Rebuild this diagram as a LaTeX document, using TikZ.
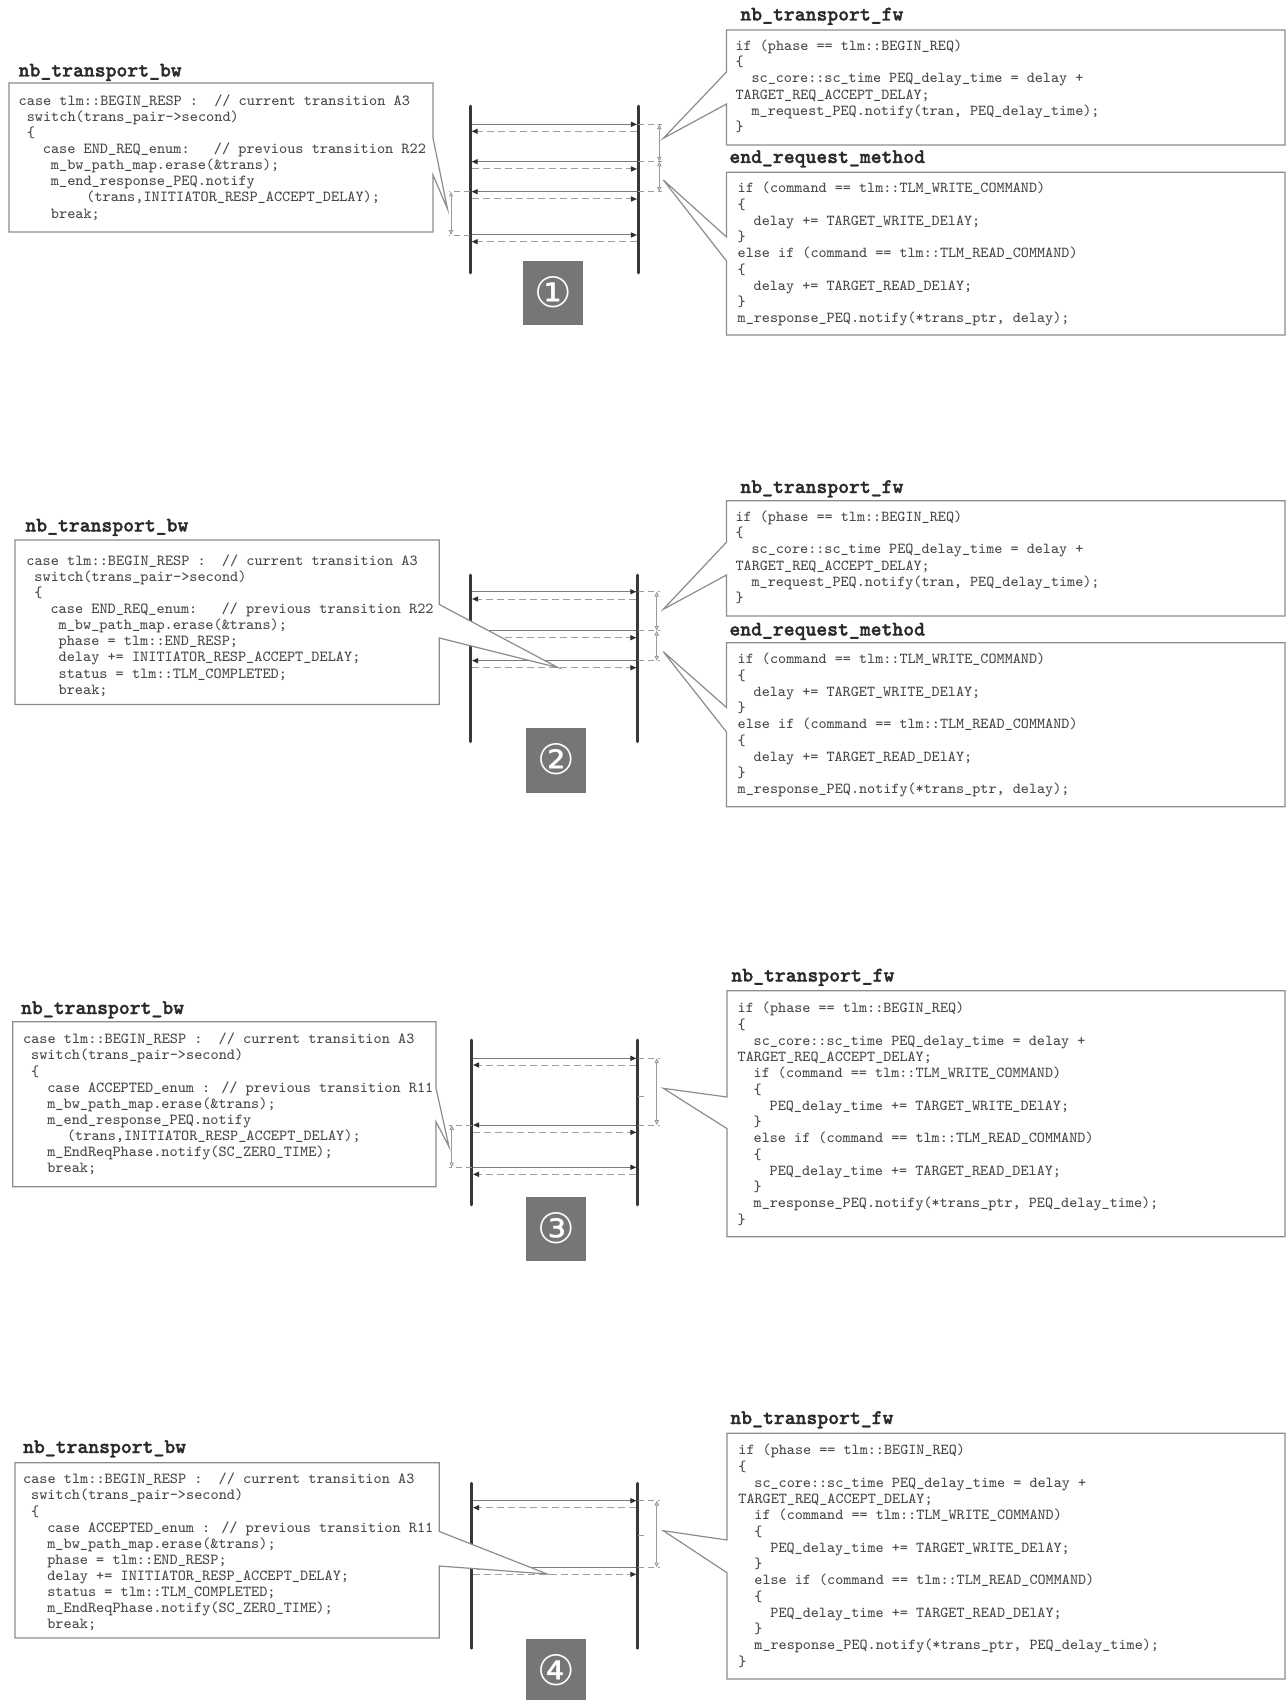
\documentclass[tikz,border=0pt]{standalone}
\usepackage{fontspec}
\usetikzlibrary{arrows.meta}
\newfontfamily\numfont{DejaVu Sans}
\newfontfamily\headfont{lmmonolt10-bold.otf}[FakeBold=1.6]
\newcommand\cind[1]{\hspace*{#1\dimexpr 0.525em\relax}}
\definecolor{boxline}{HTML}{8C8C8C}
\definecolor{codegray}{HTML}{484848}
\definecolor{titlegray}{HTML}{2A2A2A}
\definecolor{lifec}{HTML}{383838}
\definecolor{msgc}{HTML}{7A7A7A}
\definecolor{retc}{HTML}{A0A0A0}
\definecolor{headc}{HTML}{303030}
\definecolor{dimc}{HTML}{9A9A9A}
\definecolor{numc}{HTML}{767676}
\begin{document}
\begin{tikzpicture}[x=0.5pt,y=-0.5pt,
  callout/.style={draw=boxline, line width=0.6pt, fill=white, line join=miter},
  code/.style={anchor=north west, inner sep=0pt, align=left, text=codegray,
    font=\ttfamily\fontsize{7.68}{8.05}\selectfont},
  rcode/.style={code, font=\ttfamily\fontsize{7.62}{8.12}\selectfont},
  title/.style={anchor=base west, inner sep=0pt, text=titlegray,
    font=\headfont\fontsize{10.35}{12}\selectfont},
  life/.style={line width=1.35pt, draw=lifec, line cap=round},
  msg/.style={line width=0.5pt, draw=msgc, shorten <=0.7pt, shorten >=0.7pt,
    -{Triangle[length=3pt,width=2.6pt,color=headc]}},
  ret/.style={msg, draw=retc, dash pattern=on 3.5pt off 2pt},
  ext/.style={line width=0.45pt, draw=dimc, dash pattern=on 3pt off 2pt},
  dim/.style={line width=0.45pt, draw=dimc,
    {Triangle[open,length=2.4pt,width=2.2pt,fill=white]}-{Triangle[open,length=2.4pt,width=2.2pt,fill=white]}},
  tick/.style={line width=0.45pt, draw=dimc},
  numbox/.style={fill=numc, draw=none},
  num/.style={text=white, inner sep=0pt, font=\numfont\fontsize{21}{21}\selectfont}]
\useasboundingbox (0,0) rectangle (1286,1700);

% ---------------------------------------------------------------- panel 1
\coordinate (L1t) at (470.3,106); \coordinate (L1b) at (470.3,273);
\coordinate (R1t) at (638.3,106); \coordinate (R1b) at (638.3,273);
\draw[life] (L1t) -- (L1b);
\draw[life] (R1t) -- (R1b);
\draw[msg] (L1t |- 0,124.3) -- (R1t |- 0,124.3);
\draw[ret] (R1t |- 0,131.3) -- (L1t |- 0,131.3);
\draw[msg] (R1t |- 0,161.7) -- (L1t |- 0,161.7);
\draw[ret] (L1t |- 0,169) -- (R1t |- 0,169);
\draw[msg] (R1t |- 0,191.7) -- (L1t |- 0,191.7);
\draw[ret] (L1t |- 0,199) -- (R1t |- 0,199);
\draw[msg] (L1t |- 0,235) -- (R1t |- 0,235);
\draw[ret] (R1t |- 0,241.7) -- (L1t |- 0,241.7);
\coordinate (D1a) at (659.3,124.3); \coordinate (D1b) at (659.3,161.7); \coordinate (D1c) at (659.3,191.7);
\draw[ext] (R1t |- D1a) -- ([xshift=1.2pt]D1a);
\draw[ext] (R1t |- D1b) -- ([xshift=1.2pt]D1b);
\draw[ext] (R1t |- D1c) -- ([xshift=1.2pt]D1c);
\draw[dim] (D1a) -- (D1b);
\draw[dim] (D1b) -- (D1c);
\coordinate (E1a) at (451,191.7); \coordinate (E1b) at (451,235);
\draw[ext] (L1t |- E1a) -- ([xshift=-1pt]E1a);
\draw[ext] (L1t |- E1b) -- ([xshift=-1pt]E1b);
\draw[dim] (E1a) -- (E1b);

\coordinate (T1l) at (447.5,209);
\draw[callout] (9,83) -- (433,83) -- (433,138) -- (T1l) -- (433,175) -- (433,232) -- (9,232) -- cycle;
\node[title] (bw1) at (18.3,76.5) {nb\_transport\_bw};
\node[code] (bwc1) at (18.3,93.7) {\strut case tlm::BEGIN\_RESP :\cind{2}// current transition A3\\
\cind{1}switch(trans\_pair->second)\\
\cind{1}\{\\
\cind{3}case END\_REQ\_enum:\cind{3}// previous transition R22\\
\cind{4}m\_bw\_path\_map.erase(\&trans);\\
\cind{4}m\_end\_response\_PEQ.notify\\
\cind{8.4}(trans,INITIATOR\_RESP\_ACCEPT\_DELAY);\\
\cind{4}break;};

\coordinate (T1a) at (663.3,138.3);
\draw[callout] (726.5,30) -- (1285,30) -- (1285,145) -- (726.5,145) -- (726.5,104) -- (T1a) -- (726.5,72) -- cycle;
\node[title] (fw1) at (740,20.5) {nb\_transport\_fw};
\node[rcode] (fwc1) at (735.2,38.6) {\strut if (phase == tlm::BEGIN\_REQ)\\
\{\\
\cind{2}sc\_core::sc\_time PEQ\_delay\_time = delay +\\
TARGET\_REQ\_ACCEPT\_DELAY;\\
\cind{2}m\_request\_PEQ.notify(tran, PEQ\_delay\_time);\\
\}};

\coordinate (T1b) at (663.3,180);
\draw[callout] (726.5,172.3) -- (1285,172.3) -- (1285,335) -- (726.5,335) -- (726.5,261) -- (T1b) -- (726.5,237) -- cycle;
\node[title] (er1) at (729,163) {end\_request\_method};
\node[rcode] (erc1) at (737.3,181.1) {\strut if (command == tlm::TLM\_WRITE\_COMMAND)\\
\{\\
\cind{2}delay += TARGET\_WRITE\_DElAY;\\
\}\\
else if (command == tlm::TLM\_READ\_COMMAND)\\
\{\\
\cind{2}delay += TARGET\_READ\_DElAY;\\
\}\\
m\_response\_PEQ.notify(*trans\_ptr, delay);};

\fill[numbox] (523.3,261) rectangle (583.3,325);
\node[num] (n1) at (553.3,292) {①};

% ---------------------------------------------------------------- panel 2
\coordinate (L2t) at (470.7,575); \coordinate (L2b) at (470.7,741.7);
\coordinate (R2t) at (637.7,575); \coordinate (R2b) at (637.7,741.7);
\draw[life] (L2t) -- (L2b);
\draw[life] (R2t) -- (R2b);
\draw[msg] (L2t |- 0,591.7) -- (R2t |- 0,591.7);
\draw[ret] (R2t |- 0,599) -- (L2t |- 0,599);
\draw[msg] (R2t |- 0,630.7) -- (L2t |- 0,630.7);
\draw[ret] (L2t |- 0,637.7) -- (R2t |- 0,637.7);
\draw[msg] (R2t |- 0,660.7) -- (L2t |- 0,660.7);
\draw[ret] (L2t |- 0,667.7) -- (R2t |- 0,667.7);
\coordinate (D2a) at (656.7,591.7); \coordinate (D2b) at (656.7,630.7); \coordinate (D2c) at (656.7,660.7);
\draw[ext] (R2t |- D2a) -- ([xshift=1.5pt]D2a);
\draw[ext] (R2t |- D2b) -- ([xshift=1.5pt]D2b);
\draw[ext] (R2t |- D2c) -- ([xshift=1.5pt]D2c);
\draw[dim] (D2a) -- (D2b);
\draw[dim] (D2b) -- (D2c);

\coordinate (T2l) at (558.3,667.7);
\draw[callout] (15,540) -- (439.3,540) -- (439.3,604.5) -- (T2l) -- (439.3,638) -- (439.3,704.5) -- (15,704.5) -- cycle;
\node[title] (bw2) at (25,531.5) {nb\_transport\_bw};
\node[code] (bwc2) at (26,553.7) {\strut case tlm::BEGIN\_RESP :\cind{2}// current transition A3\\
\cind{1}switch(trans\_pair->second)\\
\cind{1}\{\\
\cind{3}case END\_REQ\_enum:\cind{3}// previous transition R22\\
\cind{4}m\_bw\_path\_map.erase(\&trans);\\
\cind{4}phase = tlm::END\_RESP;\\
\cind{4}delay += INITIATOR\_RESP\_ACCEPT\_DELAY;\\
\cind{4}status = tlm::TLM\_COMPLETED;\\
\cind{4}break;};

\coordinate (T2a) at (663.3,609.3);
\draw[callout] (726.5,500.7) -- (1285,500.7) -- (1285,616) -- (726.5,616) -- (726.5,575) -- (T2a) -- (726.5,542.2) -- cycle;
\node[title] (fw2) at (740,493) {nb\_transport\_fw};
\node[rcode] (fwc2) at (735.2,509.6) {\strut if (phase == tlm::BEGIN\_REQ)\\
\{\\
\cind{2}sc\_core::sc\_time PEQ\_delay\_time = delay +\\
TARGET\_REQ\_ACCEPT\_DELAY;\\
\cind{2}m\_request\_PEQ.notify(tran, PEQ\_delay\_time);\\
\}};

\coordinate (T2b) at (663.3,651.7);
\draw[callout] (726.5,642.7) -- (1285,642.7) -- (1285,806.7) -- (726.5,806.7) -- (726.5,732) -- (T2b) -- (726.5,707.5) -- cycle;
\node[title] (er2) at (729,635.5) {end\_request\_method};
\node[rcode] (erc2) at (737.3,652.1) {\strut if (command == tlm::TLM\_WRITE\_COMMAND)\\
\{\\
\cind{2}delay += TARGET\_WRITE\_DElAY;\\
\}\\
else if (command == tlm::TLM\_READ\_COMMAND)\\
\{\\
\cind{2}delay += TARGET\_READ\_DElAY;\\
\}\\
m\_response\_PEQ.notify(*trans\_ptr, delay);};

\fill[numbox] (526,728) rectangle (585.7,792.7);
\node[num] (n2) at (556,759.5) {②};

% ---------------------------------------------------------------- panel 3
\coordinate (L3t) at (471.7,1040); \coordinate (L3b) at (471.7,1205);
\coordinate (R3t) at (637.7,1040); \coordinate (R3b) at (637.7,1205);
\draw[life] (L3t) -- (L3b);
\draw[life] (R3t) -- (R3b);
\draw[msg] (L3t |- 0,1058.3) -- (R3t |- 0,1058.3);
\draw[ret] (R3t |- 0,1065) -- (L3t |- 0,1065);
\draw[msg] (R3t |- 0,1125) -- (L3t |- 0,1125);
\draw[ret] (L3t |- 0,1132.3) -- (R3t |- 0,1132.3);
\draw[msg] (L3t |- 0,1167.3) -- (R3t |- 0,1167.3);
\draw[ret] (R3t |- 0,1174.3) -- (L3t |- 0,1174.3);
\coordinate (D3a) at (656.7,1058.3); \coordinate (D3b) at (656.7,1125);
\draw[ext] (R3t |- D3a) -- ([xshift=1.6pt]D3a);
\draw[ext] (R3t |- D3b) -- ([xshift=1.6pt]D3b);
\draw[dim] (D3a) -- (D3b);
\draw[tick] (R3t |- 0,1096.7) -- ++(6.5,0);
\coordinate (E3a) at (451.7,1125); \coordinate (E3b) at (451.7,1167.3);
\draw[ext] (L3t |- E3a) -- ([xshift=-1.2pt]E3a);
\draw[ext] (L3t |- E3b) -- ([xshift=-1.2pt]E3b);
\draw[dim] (E3a) -- (E3b);

\coordinate (T3l) at (449,1146.7);
\draw[callout] (12.7,1021.7) -- (436,1021.7) -- (436,1088) -- (T3l) -- (436,1121.7) -- (436,1186.7) -- (12.7,1186.7) -- cycle;
\node[title] (bw3) at (20.7,1014) {nb\_transport\_bw};
\node[code] (bwc3) at (22.7,1032.2) {\strut case tlm::BEGIN\_RESP :\cind{2}// current transition A3\\
\cind{1}switch(trans\_pair->second)\\
\cind{1}\{\\
\cind{3}case ACCEPTED\_enum : // previous transition R11\\
\cind{3}m\_bw\_path\_map.erase(\&trans);\\
\cind{3}m\_end\_response\_PEQ.notify\\
\cind{5.45}(trans,INITIATOR\_RESP\_ACCEPT\_DELAY);\\
\cind{3}m\_EndReqPhase.notify(SC\_ZERO\_TIME);\\
\cind{3}break;};

\coordinate (T3a) at (663.3,1088.3);
\draw[callout] (727,990.7) -- (1285,990.7) -- (1285,1236.7) -- (727,1236.7) -- (727,1128.6) -- (T3a) -- (727,1097) -- cycle;
\node[title] (fw3) at (731,981.5) {nb\_transport\_fw};
\node[rcode] (fwc3) at (737.3,1001.1) {\strut if (phase == tlm::BEGIN\_REQ)\\
\{\\
\cind{2}sc\_core::sc\_time PEQ\_delay\_time = delay +\\
TARGET\_REQ\_ACCEPT\_DELAY;\\
\cind{2}if (command == tlm::TLM\_WRITE\_COMMAND)\\
\cind{2}\{\\
\cind{4}PEQ\_delay\_time += TARGET\_WRITE\_DElAY;\\
\cind{2}\}\\
\cind{2}else if (command == tlm::TLM\_READ\_COMMAND)\\
\cind{2}\{\\
\cind{4}PEQ\_delay\_time += TARGET\_READ\_DElAY;\\
\cind{2}\}\\
\cind{2}m\_response\_PEQ.notify(*trans\_ptr, PEQ\_delay\_time);\\
\}};

\fill[numbox] (526,1196.7) rectangle (585.7,1260.7);
\node[num] (n3) at (556,1228) {③};

% ---------------------------------------------------------------- panel 4
\coordinate (L4t) at (471.7,1483.3); \coordinate (L4b) at (471.7,1648.3);
\coordinate (R4t) at (637.7,1483.3); \coordinate (R4b) at (637.7,1648.3);
\draw[life] (L4t) -- (L4b);
\draw[life] (R4t) -- (R4b);
\draw[msg] (L4t |- 0,1500.7) -- (R4t |- 0,1500.7);
\draw[ret] (R4t |- 0,1507.7) -- (L4t |- 0,1507.7);
\draw[msg] (R4t |- 0,1567.3) -- (L4t |- 0,1567.3);
\draw[ret] (L4t |- 0,1574.3) -- (R4t |- 0,1574.3);
\coordinate (D4a) at (656.7,1500.7); \coordinate (D4b) at (656.7,1567.3);
\draw[ext] (R4t |- D4a) -- ([xshift=1.6pt]D4a);
\draw[ext] (R4t |- D4b) -- ([xshift=1.6pt]D4b);
\draw[dim] (D4a) -- (D4b);
\draw[tick] (R4t |- 0,1535) -- ++(6.5,0);

\coordinate (T4l) at (547.3,1574);
\draw[callout] (15,1462.7) -- (439.3,1462.7) -- (439.3,1531.5) -- (T4l) -- (439.3,1566) -- (439.3,1638) -- (15,1638) -- cycle;
\node[title] (bw4) at (22.7,1453) {nb\_transport\_bw};
\node[code] (bwc4) at (22.7,1472.2) {\strut case tlm::BEGIN\_RESP :\cind{2}// current transition A3\\
\cind{1}switch(trans\_pair->second)\\
\cind{1}\{\\
\cind{3}case ACCEPTED\_enum : // previous transition R11\\
\cind{3}m\_bw\_path\_map.erase(\&trans);\\
\cind{3}phase = tlm::END\_RESP;\\
\cind{3}delay += INITIATOR\_RESP\_ACCEPT\_DELAY;\\
\cind{3}status = tlm::TLM\_COMPLETED;\\
\cind{3}m\_EndReqPhase.notify(SC\_ZERO\_TIME);\\
\cind{3}break;};

\coordinate (T4a) at (663.3,1530.7);
\draw[callout] (727,1433.3) -- (1285,1433.3) -- (1285,1679) -- (727,1679) -- (727,1572.7) -- (T4a) -- (727,1540) -- cycle;
\node[title] (fw4) at (730,1424) {nb\_transport\_fw};
\node[rcode] (fwc4) at (738,1443.1) {\strut if (phase == tlm::BEGIN\_REQ)\\
\{\\
\cind{2}sc\_core::sc\_time PEQ\_delay\_time = delay +\\
TARGET\_REQ\_ACCEPT\_DELAY;\\
\cind{2}if (command == tlm::TLM\_WRITE\_COMMAND)\\
\cind{2}\{\\
\cind{4}PEQ\_delay\_time += TARGET\_WRITE\_DElAY;\\
\cind{2}\}\\
\cind{2}else if (command == tlm::TLM\_READ\_COMMAND)\\
\cind{2}\{\\
\cind{4}PEQ\_delay\_time += TARGET\_READ\_DElAY;\\
\cind{2}\}\\
\cind{2}m\_response\_PEQ.notify(*trans\_ptr, PEQ\_delay\_time);\\
\}};

\fill[numbox] (526,1639.3) rectangle (585.7,1703.3);
\node[num] (n4) at (556,1670.5) {④};
\end{tikzpicture}
\end{document}
